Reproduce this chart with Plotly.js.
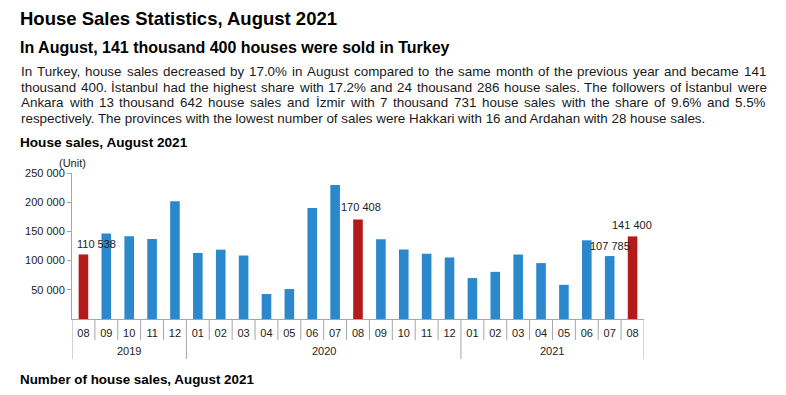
<!DOCTYPE html>
<html>
<head>
<meta charset="utf-8">
<script src="https://cdn.plot.ly/plotly-3.0.1.min.js"></script>
<style>
  html, body { margin: 0; padding: 0; background: #fff; }
  #chart { width: 786px; height: 395px; }
</style>
</head>
<body>
<div id="chart"></div>
<script>
// ---- data ----
const years  = ['2019','2019','2019','2019','2019',
                '2020','2020','2020','2020','2020','2020','2020','2020','2020','2020','2020','2020',
                '2021','2021','2021','2021','2021','2021','2021','2021'];
const months = ['08','09','10','11','12',
                '01','02','03','04','05','06','07','08','09','10','11','12',
                '01','02','03','04','05','06','07','08'];
const sales  = [110538,146575,141713,136997,201741,
                113136,118753,108670,42783,51308,190012,229357,170408,136544,119035,111802,105374,
                70071,80740,110400,95733,58539,134751,107785,141400];
const labeledBars = ['2019-08','2020-08','2021-07','2021-08'];
const yTickVals = [50000,100000,150000,200000,250000];

const titleText = 'House Sales Statistics, August 2021';
const subtitleText = 'In August, 141 thousand 400 houses were sold in Turkey';
const bodyLines = [
  'In Turkey, house sales decreased by 17.0% in August compared to the same month of the previous year and became 141',
  'thousand 400. İstanbul had the highest share with 17.2% and 24 thousand 286 house sales. The followers of İstanbul were',
  'Ankara with 13 thousand 642 house sales and İzmir with 7 thousand 731 house sales with the share of 9.6% and 5.5%',
  'respectively. The provinces with the lowest number of sales were Hakkari with 16 and Ardahan with 28 house sales.'
];
const chartTitleText = 'House sales, August 2021';
const footerText = 'Number of house sales, August 2021';
const unitText = '(Unit)';

// ---- layout geometry ----
const W = 786, H = 395;
const M = {l: 72, r: 142, t: 173, b: 76};
const PW = W - M.l - M.r, PH = H - M.t - M.b;
const px2x = px => (px - M.l) / PW;
const py2y = py => (H - M.b - py) / PH;
const FONT = 'Liberation Sans, Arial, sans-serif';

const idx = months.map((_, i) => i);
const keys = months.map((m, i) => years[i] + '-' + m);
const colors = months.map(m => m === '08' ? '#B31B1B' : '#2B88CC');

const annotations = [];
const shapes = [];

// measure text for justification
const cv = document.createElement('canvas');
const ctx = cv.getContext('2d');
function addTextLine(text, py, size, color, x0, x1, justify) {
  if (!justify) {
    annotations.push({
      xref: 'paper', yref: 'paper', x: px2x(x0), y: py2y(py),
      xanchor: 'left', yanchor: 'middle', showarrow: false, borderpad: 0,
      text: text, font: {family: FONT, size: size, color: color}
    });
    return;
  }
  ctx.font = size + 'px "Liberation Sans"';
  const words = text.split(' ');
  const widths = words.map(w => ctx.measureText(w).width);
  const total = widths.reduce((a, b) => a + b, 0);
  const gap = (x1 - x0 - total) / (words.length - 1);
  let x = x0;
  words.forEach((w, i) => {
    annotations.push({
      xref: 'paper', yref: 'paper', x: px2x(x), y: py2y(py),
      xanchor: 'left', yanchor: 'middle', showarrow: false, borderpad: 0,
      text: w, font: {family: FONT, size: size, color: color}
    });
    x += widths[i] + gap;
  });
}

function headText(text, px, py, size) {
  annotations.push({xref:'paper', yref:'paper', x: px2x(px), y: py2y(py), xanchor:'left', yanchor:'middle',
    showarrow:false, borderpad:0, text: '<b>' + text + '</b>', font:{family: FONT, size: size, color:'#000'}});
}

// header texts
headText(titleText, 19, 18, 18.5);
headText(subtitleText, 19, 47, 16);
const linePy = [71, 87, 102.5, 118];
bodyLines.forEach((t, i) => addTextLine(t, linePy[i], 13.4, '#1a1a1a', 20, 765, i < bodyLines.length - 1));
headText(chartTitleText, 19, 142, 13.6);
headText(footerText, 19, 379, 13.4);
annotations.push({xref:'paper', yref:'paper', x: 0, y: py2y(163), xanchor:'center', yanchor:'middle',
  showarrow:false, borderpad:0, text: unitText, font:{family: FONT, size: 11, color:'#222'}});

// value labels
const labelShift = {'2019-08': [13, 10], '2020-08': [3, 12], '2021-07': [0, 10], '2021-08': [-1, 11]};
labeledBars.forEach(k => {
  const i = keys.indexOf(k);
  annotations.push({xref:'x', yref:'y', x: idx[i], y: sales[i], xanchor:'center', yanchor:'middle',
    xshift: labelShift[k][0], yshift: labelShift[k][1], showarrow:false, borderpad:0,
    text: sales[i].toLocaleString('en-US').replace(/,/g, ' '),
    font:{family: FONT, size: 11, color:'#222'}});
});

// year labels and dividers
const yearGroups = [];
years.forEach((y, i) => {
  if (!yearGroups.length || yearGroups[yearGroups.length - 1].y !== y) yearGroups.push({y: y, s: i, e: i});
  else yearGroups[yearGroups.length - 1].e = i;
});
const lineStyle = {color: '#a6a6a6', width: 1};
yearGroups.forEach(g => {
  annotations.push({xref:'x', yref:'paper', x: (idx[g.s] + idx[g.e]) / 2, y: py2y(351), xanchor:'center', yanchor:'middle',
    showarrow:false, borderpad:0, text: g.y, font:{family: FONT, size: 11, color:'#222'}});
});
for (let i = 0; i <= months.length; i++) {
  const isGroup = i === 0 || i === months.length || years[i] !== years[i - 1];
  shapes.push({type:'line', xref:'x', yref:'paper', x0: i - 0.5, x1: i - 0.5,
    y0: 0, y1: py2y(isGroup ? 359 : 340), line: lineStyle});
}

const trace = {
  type: 'bar', x: idx, y: sales, width: 0.42,
  marker: {color: colors, line: {width: 0}},
  hoverinfo: 'skip'
};

const layout = {
  width: W, height: H, margin: M,
  paper_bgcolor: '#fff', plot_bgcolor: '#fff',
  showlegend: false,
  separators: '. ',
  font: {family: FONT, size: 11, color: '#222'},
  xaxis: {
    range: [-0.5, months.length - 0.5], tickvals: idx, ticktext: months,
    ticks: 'outside', ticklen: 4, tickcolor: 'rgba(0,0,0,0)',
    showline: true, linecolor: '#a6a6a6', linewidth: 1,
    showgrid: false, zeroline: false, fixedrange: true,
    tickfont: {family: FONT, size: 11, color: '#222'}
  },
  yaxis: {
    range: [0, 250000], tickvals: yTickVals, tickformat: ',d',
    ticks: 'outside', ticklen: 4, tickcolor: '#a6a6a6',
    showline: true, linecolor: '#a6a6a6', linewidth: 1,
    showgrid: false, zeroline: false, fixedrange: true,
    tickfont: {family: FONT, size: 11, color: '#222'}
  },
  annotations: annotations,
  shapes: shapes
};

Plotly.newPlot('chart', [trace], layout, {staticPlot: true, displayModeBar: false});
</script>
</body>
</html>
